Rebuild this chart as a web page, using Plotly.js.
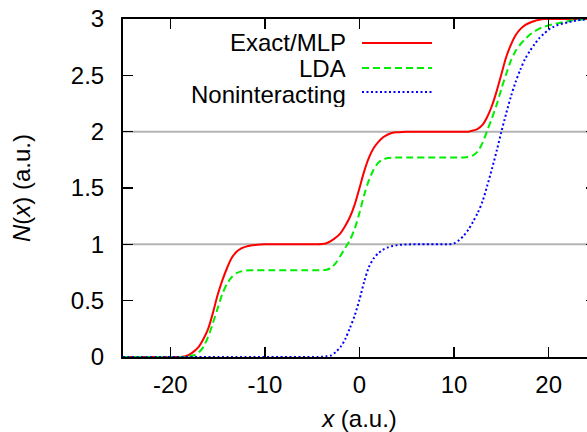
<!DOCTYPE html>
<html>
<head>
<meta charset="utf-8">
<script src="https://cdn.plot.ly/plotly-3.0.1.min.js"></script>
<style>html,body{margin:0;padding:0;overflow:hidden;background:#fff;}</style>
</head>
<body>
<div id="chart" style="width:600px;height:432px;"></div>
<script>
// x grid (a.u.), step 0.5 from -25 to 25
const xGrid = [-25,-24.5,-24,-23.5,-23,-22.5,-22,-21.5,-21,-20.5,-20,-19.5,-19,-18.5,-18,-17.5,-17,-16.5,-16,-15.5,-15,-14.5,-14,-13.5,-13,-12.5,-12,-11.5,-11,-10.5,-10,-9.5,-9,-8.5,-8,-7.5,-7,-6.5,-6,-5.5,-5,-4.5,-4,-3.5,-3,-2.5,-2,-1.5,-1,-0.5,0,0.5,1,1.5,2,2.5,3,3.5,4,4.5,5,5.5,6,6.5,7,7.5,8,8.5,9,9.5,10,10.5,11,11.5,12,12.5,13,13.5,14,14.5,15,15.5,16,16.5,17,17.5,18,18.5,19,19.5,20,20.5,21,21.5,22,22.5,23,23.5,24,24.5,25];
const exactMLP = [0,0,0,0,0,0,0,0,0,0,0,0,0,
  0.005,0.02,0.05,0.09,0.16,0.25,0.39,0.55,0.68,0.79,0.88,0.935,0.965,0.98,0.99,0.995,0.998,
  1,1,1,1,1,1,1,1,1,1,1,1,
  1.002,1.01,1.03,1.06,1.10,1.165,1.245,1.355,1.50,1.65,1.77,1.855,1.91,1.95,1.975,1.99,1.995,1.998,
  2,2,2,2,2,2,2,2,2,2,2,2,2,2,
  2.01,2.025,2.06,2.13,2.23,2.36,2.51,2.66,2.77,2.855,2.91,2.945,2.967,2.983,2.993,
  3,3,3,3,3,3,3,3,3,3,3,3];
const lda = [0,0,0,0,0,0,0,0,0,0,0,0,0,
  0.002,0.007,0.015,0.04,0.09,0.18,0.30,0.43,0.56,0.65,0.71,0.745,0.76,0.767,0.77,
  0.77,0.77,0.77,0.77,0.77,0.77,0.77,0.77,0.77,0.77,0.77,0.77,0.77,0.77,0.77,
  0.775,0.79,0.835,0.90,0.97,1.04,1.14,1.28,1.44,1.57,1.665,1.725,1.755,1.767,
  1.77,1.77,1.77,1.77,1.77,1.77,1.77,1.77,1.77,1.77,1.77,1.77,1.77,1.77,1.77,1.77,
  1.775,1.79,1.825,1.90,2.01,2.12,2.24,2.38,2.51,2.63,2.715,2.775,2.82,2.86,2.89,2.915,2.93,2.945,2.955,2.963,2.972,2.98,2.988,2.993,2.996,2.998,3,3];
const nonint = [0,0,0,0,0,0,0,0,0,0,0,0,0,0,0,0,0,0,0,0,0,0,0,0,0,0,0,0,0,0,0,0,0,0,0,0,0,0,0,0,0,0,
  0.002,0.006,0.015,0.045,0.09,0.16,0.26,0.37,0.51,0.67,0.80,0.875,0.922,0.953,0.973,0.986,0.993,0.997,0.999,
  1,1,1,1,1,1,1,1,1,
  1.01,1.035,1.075,1.13,1.20,1.28,1.38,1.52,1.67,1.83,2.0,2.16,2.31,2.44,2.55,2.645,2.715,2.775,2.83,2.87,2.905,2.93,2.948,2.96,2.97,2.98,2.988,2.993,2.996,2.998,3];
const names = ["Exact/MLP","LDA","Noninteracting"];
const colors = ["#ff0000","#00ee00","#0000ff"];
const dashes = ["solid","7px,4px","2px,2.5px"];
const refLines = [1,2];
const xTicks = [-20,-10,0,10,20];
const yTicks = [0,0.5,1,1.5,2,2.5,3];
const FONT = "Liberation Sans, Arial, sans-serif";

const series = [exactMLP, lda, nonint];
const traces = series.map((s,i)=>({
  x: xGrid, y: s, type:"scatter", mode:"lines", name:names[i],
  line:{color:colors[i], width:2, dash:dashes[i], shape:"spline", smoothing:0.8},
  showlegend:false
}));

const W=600,H=432,L=123,R=4,T=19,B=75;
const pw=W-L-R, ph=H-T-B;
const px2paper = p => (p-L)/pw;
const py2paper = p => (H-B-p)/ph;

const shapes = refLines.map(v=>({type:"line", xref:"paper", yref:"y", x0:0, x1:1, y0:v, y1:v, line:{color:"#b4b4b4", width:2}, layer:"below"}));
const annotations = [];
const legY = [42,68,94];
const legTextY = [43,68,92];
names.forEach((n,i)=>{
  annotations.push({xref:"paper", yref:"paper", x:px2paper(347), y:py2paper(legY[i]), text:n, showarrow:false, xanchor:"right", yanchor:"middle", height:26, valign:"middle", borderpad:0, font:{family:FONT, size:24, color:"#000"}});
  shapes.push({type:"line", xref:"paper", yref:"paper", x0:px2paper(362), x1:px2paper(432), y0:py2paper(legTextY[i]), y1:py2paper(legTextY[i]), line:{color:colors[i], width:2, dash:dashes[i]}});
});

const axisCommon = {showline:true, linecolor:"#000", linewidth:2, mirror:"ticks", ticks:"inside", ticklen:10, tickwidth:1.5, tickcolor:"#000", showgrid:false, zeroline:false, tickfont:{family:FONT, size:24, color:"#000"}};

const layout = {
  width:W, height:H, margin:{l:L,r:R,t:T,b:B}, paper_bgcolor:"#fff", plot_bgcolor:"#fff",
  xaxis: Object.assign({}, axisCommon, {range:[-25,25], tickvals:xTicks, ticktext:xTicks.map(String), ticklabelstandoff:5,
    title:{text:"<i>x</i> (a.u.)", font:{family:FONT, size:24, color:"#000"}, standoff:18}}),
  yaxis: Object.assign({}, axisCommon, {range:[0,3], tickvals:yTicks, ticktext:yTicks.map(String), ticklabelstandoff:12,
    title:{text:"<i>N</i>(<i>x</i>) (a.u.)", font:{family:FONT, size:24, color:"#000"}, standoff:33}}),
  shapes: shapes, annotations: annotations
};
Plotly.newPlot("chart", traces, layout, {staticPlot:true, displayModeBar:false});
</script>
</body>
</html>
